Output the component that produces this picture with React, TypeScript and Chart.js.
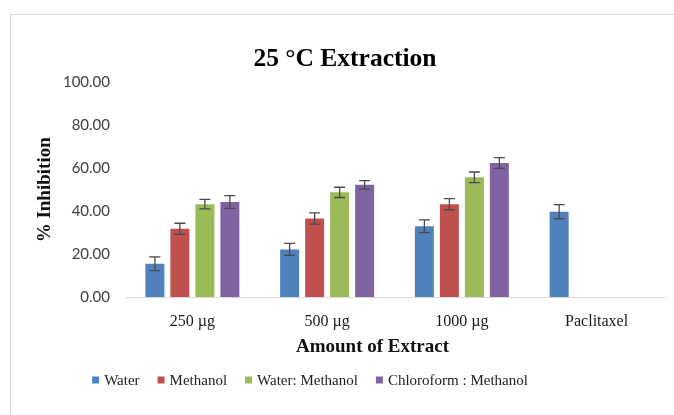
import React, { useEffect, useRef } from "react";
import { Chart, registerables } from "chart.js";

Chart.register(...registerables);

const categories = ["250 µg", "500 µg", "1000 µg", "Paclitaxel"];
const seriesNames = ["Water", "Methanol", "Water: Methanol", "Chloroform : Methanol"];
const waterValues = [15.5, 22.2, 33.0, 39.8];
const waterErrors = [3.2, 2.8, 3.0, 3.3];
const methanolValues = [31.8, 36.6, 43.3, null];
const methanolErrors = [2.6, 2.6, 2.6, null];
const waterMethanolValues = [43.3, 48.8, 55.8, null];
const waterMethanolErrors = [2.2, 2.4, 2.5, null];
const chloroformMethanolValues = [44.3, 52.3, 62.5, null];
const chloroformMethanolErrors = [3.0, 2.0, 2.5, null];
const yTicks = { min: 0, max: 100, step: 20 };
const colors = ["#4F81BD", "#C0504D", "#9BBB59", "#8064A2"];

const titleText = "25 °C Extraction";
const xTitleText = "Amount of Extract";
const yTitleText = "% Inhibition";

const SERIF = "'Liberation Serif', 'Times New Roman', serif";

const errorBarPlugin = {
  id: "errorBars",
  afterDatasetsDraw(chart: any) {
    const ctx = chart.ctx;
    const yScale = chart.scales.y;
    ctx.save();
    ctx.strokeStyle = "#4a4a4a";
    ctx.lineWidth = 1.3;
    chart.data.datasets.forEach((ds: any, i: number) => {
      const meta = chart.getDatasetMeta(i);
      meta.data.forEach((el: any, j: number) => {
        const v = ds.data[j];
        const e = ds.errors ? ds.errors[j] : null;
        if (v == null || e == null) return;
        const x = el.x;
        const yt = yScale.getPixelForValue(v + e);
        const yb = yScale.getPixelForValue(v - e);
        const cap = 5.5;
        ctx.beginPath();
        ctx.moveTo(x, yt);
        ctx.lineTo(x, yb);
        ctx.moveTo(x - cap, yt);
        ctx.lineTo(x + cap, yt);
        ctx.moveTo(x - cap, yb);
        ctx.lineTo(x + cap, yb);
        ctx.stroke();
      });
    });
    ctx.restore();
  },
};

const framePlugin = {
  id: "frame",
  beforeDraw(chart: any) {
    const ctx = chart.ctx;
    ctx.save();
    ctx.fillStyle = "#ffffff";
    ctx.fillRect(0, 0, chart.width, chart.height);
    ctx.strokeStyle = "#d9d9d9";
    ctx.lineWidth = 1;
    ctx.beginPath();
    ctx.moveTo(10.5, chart.height);
    ctx.lineTo(10.5, 14.5);
    ctx.lineTo(chart.width, 14.5);
    ctx.stroke();
    ctx.restore();
  },
};

const annotationsPlugin = {
  id: "xTitleLegend",
  afterDraw(chart: any) {
    const ctx = chart.ctx;
    const area = chart.chartArea;
    ctx.save();
    // x axis title
    ctx.fillStyle = "#111111";
    ctx.font = `bold 19px ${SERIF}`;
    ctx.textAlign = "center";
    ctx.textBaseline = "middle";
    ctx.fillText(xTitleText, (area.left + area.right) / 2 - 22, area.bottom + 50);

    // legend
    ctx.font = `15px ${SERIF}`;
    ctx.textAlign = "left";
    const box = 7;
    const boxGap = 5;
    const itemGap = 18;
    const items = chart.data.datasets.map((ds: any) => ({
      label: ds.label,
      color: ds.backgroundColor,
      w: box + boxGap + ctx.measureText(ds.label).width,
    }));
    const total = items.reduce((s: number, it: any) => s + it.w, 0) + itemGap * (items.length - 1);
    let x = chart.width / 2 - 27 - total / 2;
    const y = area.bottom + 83;
    items.forEach((it: any) => {
      ctx.fillStyle = it.color;
      ctx.fillRect(x, y - box / 2, box, box);
      ctx.fillStyle = "#222222";
      ctx.fillText(it.label, x + box + boxGap, y + 1);
      x += it.w + itemGap;
    });
    ctx.restore();
  },
};

export default function App() {
  const canvasRef = useRef<HTMLCanvasElement | null>(null);

  useEffect(() => {
    if (!canvasRef.current) return;
    const valueSets = [waterValues, methanolValues, waterMethanolValues, chloroformMethanolValues];
    const errorSets = [waterErrors, methanolErrors, waterMethanolErrors, chloroformMethanolErrors];
    const chart = new Chart(canvasRef.current, {
      type: "bar",
      data: {
        labels: categories,
        datasets: seriesNames.map((name, i) => ({
          label: name,
          data: valueSets[i],
          errors: errorSets[i],
          backgroundColor: colors[i],
          borderWidth: 0,
          categoryPercentage: 0.742,
          barPercentage: 0.76,
        })) as any,
      },
      options: {
        animation: false,
        responsive: false,
        maintainAspectRatio: false,
        layout: { padding: { left: 26, right: 10, top: 0, bottom: 0 } },
        plugins: {
          legend: { display: false },
          tooltip: { enabled: false },
          title: {
            display: true,
            text: titleText,
            color: "#000000",
            font: { family: SERIF, size: 25.5, weight: "bold" },
            padding: { top: 44, bottom: 8 },
          },
        },
        scales: {
          x: {
            grid: { display: false, drawTicks: false },
            border: { display: true, color: "#d9d9d9", width: 1 },
            ticks: {
              color: "#1a1a1a",
              font: { family: SERIF, size: 16 },
              padding: 15,
              maxRotation: 0,
              autoSkip: false,
            },
            afterFit(scale: any) {
              scale.height = 118;
            },
          },
          y: {
            min: yTicks.min,
            max: yTicks.max,
            grid: { display: false, drawTicks: false },
            border: { display: false },
            ticks: {
              stepSize: yTicks.step,
              color: "#404040",
              font: { family: "Lato, 'Open Sans', sans-serif", size: 15 },
              padding: 15,
              callback: (v: any) => Number(v).toFixed(2),
            },
            title: {
              display: true,
              text: yTitleText,
              color: "#111111",
              font: { family: SERIF, size: 19, weight: "bold" },
              padding: { top: 8, bottom: 0 },
            },
            afterFit(scale: any) {
              scale.width = 99;
            },
          },
        },
      } as any,
      plugins: [framePlugin, errorBarPlugin, annotationsPlugin],
    });
    return () => chart.destroy();
  }, []);

  return (
    <div style={{ position: "absolute", left: 0, top: 0, width: 674, height: 415 }}>
      <canvas ref={canvasRef} width={674} height={415} style={{ display: "block" }} />
    </div>
  );
}
